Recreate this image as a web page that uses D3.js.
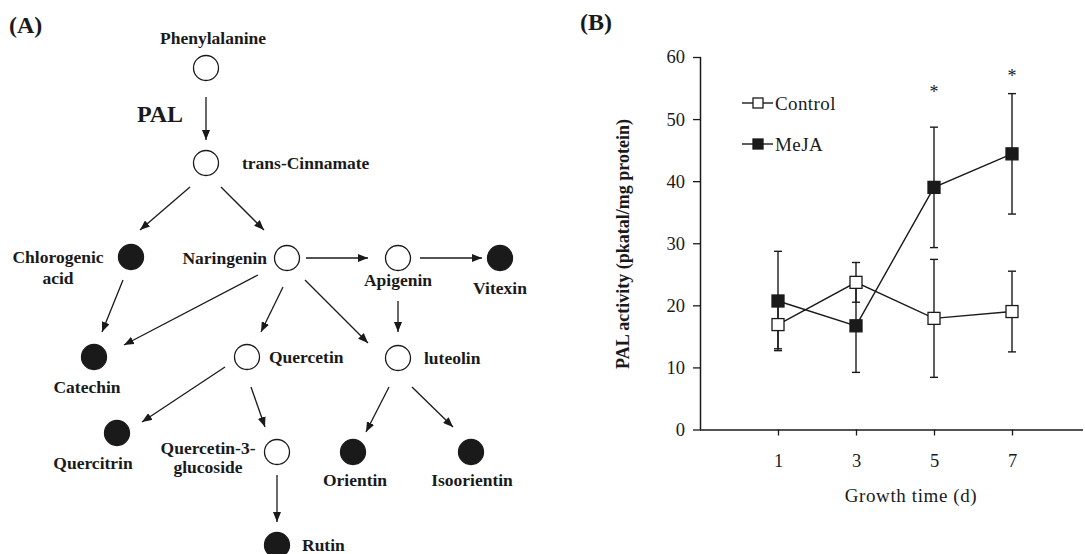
<!DOCTYPE html>
<html><head><meta charset="utf-8">
<script src="https://cdn.jsdelivr.net/npm/d3@7"></script>
<style>
html,body{margin:0;padding:0;background:#fff;}
svg{display:block;font-family:"Liberation Serif","Times New Roman",serif;}
</style></head>
<body>
<svg id="c" width="1085" height="554"></svg>
<script>
// ---------- Data ----------
const days = [1, 3, 5, 7];
const controlMean = [16.9, 23.7, 17.9, 19.0];
const controlSD   = [3.9, 3.2, 9.5, 6.5];
const mejaMean    = [20.7, 16.7, 39.0, 44.4];
const mejaSD      = [8.0, 7.5, 9.7, 9.7];
const sigMarkLevel = [null, null, 55.0, 57.6];   // where the "*" sits (in PAL units)
const yTicks = [0, 10, 20, 30, 40, 50, 60];
const seriesNames = ["Control", "MeJA"];

// pathway diagram
const compounds = ["Phenylalanine","trans-Cinnamate","Chlorogenic acid","Naringenin","Apigenin","Vitexin",
  "Catechin","Quercetin","luteolin","Quercitrin","Quercetin-3-glucoside","Orientin","Isoorientin","Rutin"];
const measured = ["Chlorogenic acid","Vitexin","Catechin","Quercitrin","Orientin","Isoorientin","Rutin"];
const labelLines = {"Chlorogenic acid":["Chlorogenic","acid"],"Quercetin-3-glucoside":["Quercetin-3-","glucoside"]};
const reactions = [
  ["Phenylalanine","trans-Cinnamate"],["trans-Cinnamate","Chlorogenic acid"],["trans-Cinnamate","Naringenin"],
  ["Naringenin","Apigenin"],["Apigenin","Vitexin"],["Chlorogenic acid","Catechin"],["Naringenin","Catechin"],
  ["Naringenin","Quercetin"],["Naringenin","luteolin"],["Apigenin","luteolin"],["Quercetin","Quercitrin"],
  ["Quercetin","Quercetin-3-glucoside"],["luteolin","Orientin"],["luteolin","Isoorientin"],["Quercetin-3-glucoside","Rutin"]];
const enzymeLabel = "PAL";

// ---------- Layout (positions only) ----------
const nodePos = {
  "Phenylalanine":[206,68],"trans-Cinnamate":[206,163],"Chlorogenic acid":[131,257],"Naringenin":[287,258],
  "Apigenin":[398,258],"Vitexin":[500,258],"Catechin":[94,357],"Quercetin":[247,357],"luteolin":[398,358],
  "Quercitrin":[117,433],"Quercetin-3-glucoside":[277,452],"Orientin":[353,452],"Isoorientin":[471,452],"Rutin":[277,545]};
// label: [dx, dy(first line), anchor, lineGap]
const labelPos = {
  "Phenylalanine":[7,-30,"middle",0],
  "trans-Cinnamate":[36,0,"start",0],
  "Chlorogenic acid":[-73,0,"middle",21],
  "Naringenin":[-20,0,"end",0],
  "Apigenin":[0,22,"middle",0],
  "Vitexin":[0,30,"middle",0],
  "Catechin":[-7,30,"middle",0],
  "Quercetin":[22,0,"start",0],
  "luteolin":[26,0,"start",0],
  "Quercitrin":[-24,30,"middle",0],
  "Quercetin-3-glucoside":[-69,-4,"middle",19],
  "Orientin":[2,28,"middle",0],
  "Isoorientin":[1,28,"middle",0],
  "Rutin":[25,0,"start",0]};
const arrowPos = [
  [206,97,206,140],[190,187,140,230],[221,187,264,230],[306,258,368,258],[420,258,482,258],
  [123,280,102,332],[258,275,124,345],[283,287,261,332],[305,280,368,343],[398,301,398,332],
  [225,367,142,422],[251,387,265,427],[389,387,366,432],[412,387,453,427],[277,475,277,522]];

const svg = d3.select("#c");
const ink = "#1a1a1a";

// ---------- Panel A ----------
svg.append("text").attr("x",9).attr("y",33).attr("font-size",24).attr("font-weight","bold").attr("fill",ink).text("(A)");

const defs = svg.append("defs");
defs.append("marker").attr("id","ah").attr("viewBox","0 0 10 8").attr("refX",10).attr("refY",4)
  .attr("markerWidth",10).attr("markerHeight",8).attr("markerUnits","userSpaceOnUse").attr("orient","auto")
  .append("path").attr("d","M0,0 L10,4 L0,8 Z").attr("fill",ink);

const gA = svg.append("g");
gA.selectAll("line.arr").data(reactions).join("line").attr("class","arr")
  .attr("x1",(d,i)=>arrowPos[i][0]).attr("y1",(d,i)=>arrowPos[i][1])
  .attr("x2",(d,i)=>arrowPos[i][2]).attr("y2",(d,i)=>arrowPos[i][3])
  .attr("stroke",ink).attr("stroke-width",1.3).attr("marker-end","url(#ah)");

gA.selectAll("circle.node").data(compounds).join("circle").attr("class","node")
  .attr("cx",d=>nodePos[d][0]).attr("cy",d=>nodePos[d][1]).attr("r",12.5)
  .attr("fill",d=>measured.includes(d)?ink:"#fff").attr("stroke",ink).attr("stroke-width",1.3);

compounds.forEach(c=>{
  const [dx,dy,anchor,gap] = labelPos[c];
  const lines = labelLines[c] || [c];
  lines.forEach((l,i)=>{
    gA.append("text").attr("x",nodePos[c][0]+dx).attr("y",nodePos[c][1]+dy+i*gap).attr("dy","0.35em")
      .attr("text-anchor",anchor).attr("font-size",17.5).attr("font-weight","bold").attr("fill",ink).text(l);
  });
});
gA.append("text").attr("x",160).attr("y",114).attr("dy","0.35em").attr("text-anchor","middle")
  .attr("font-size",24).attr("font-weight","bold").attr("fill",ink).text(enzymeLabel);

// ---------- Panel B ----------
svg.append("text").attr("x",580).attr("y",30).attr("font-size",24).attr("font-weight","bold").attr("fill",ink).text("(B)");

const x = d3.scaleLinear().domain([1,7]).range([778,1012]);
const y = d3.scaleLinear().domain([0,60]).range([429.5,57]);
const x0 = 701, xEnd = 1083;

const gB = svg.append("g");
const yAxis = d3.axisLeft(y).tickValues(yTicks).tickSize(8).tickPadding(8);
const gy = gB.append("g").attr("transform",`translate(${x0},0)`).call(yAxis);
gy.select(".domain").attr("d",`M-0.5,${y(60)}V${y(0)}`).attr("stroke",ink).attr("stroke-width",1.5);
gy.selectAll(".tick line").attr("stroke",ink).attr("stroke-width",1.3);
gy.selectAll(".tick text").attr("font-family","Liberation Serif").attr("font-size",18.5).attr("fill",ink);

const xAxis = d3.axisBottom(x).tickValues(days).tickSize(6).tickPadding(18).tickFormat(d3.format("d"));
const gx = gB.append("g").attr("transform",`translate(0,${y(0)})`).call(xAxis);
gx.select(".domain").attr("d",`M${x0-1},0.5H${xEnd}`).attr("stroke",ink).attr("stroke-width",1.5);
gx.selectAll(".tick line").attr("stroke",ink).attr("stroke-width",1.3);
gx.selectAll(".tick text").attr("font-family","Liberation Serif").attr("font-size",18.5).attr("fill",ink);

gB.append("text").attr("transform",`translate(623,244) rotate(-90)`).attr("text-anchor","middle")
  .attr("dy","0.35em").attr("font-size",18).attr("font-weight","bold").attr("fill",ink)
  .text("PAL activity (pkatal/mg protein)");
gB.append("text").attr("x",911).attr("y",495).attr("dy","0.35em").attr("text-anchor","middle")
  .attr("font-size",19).attr("letter-spacing",0.6).attr("fill",ink).text("Growth time (d)");

const series = [
  {name:seriesNames[0], mean:controlMean, sd:controlSD, fill:"#fff"},
  {name:seriesNames[1], mean:mejaMean, sd:mejaSD, fill:ink}];
const capW = 4;
series.forEach(s=>{
  const g = gB.append("g");
  days.forEach((d,i)=>{
    const hi = y(s.mean[i]+s.sd[i]), lo = y(Math.max(0,s.mean[i]-s.sd[i]));
    g.append("line").attr("x1",x(d)).attr("x2",x(d)).attr("y1",hi).attr("y2",lo).attr("stroke",ink).attr("stroke-width",1.4);
    [hi,lo].forEach(yy=>g.append("line").attr("x1",x(d)-capW).attr("x2",x(d)+capW).attr("y1",yy).attr("y2",yy).attr("stroke",ink).attr("stroke-width",1.4));
  });
});
series.forEach(s=>{
  gB.append("path").datum(days.map((d,i)=>[d,s.mean[i]]))
    .attr("d",d3.line().x(d=>x(d[0])).y(d=>y(d[1]))).attr("fill","none").attr("stroke",ink).attr("stroke-width",1.4);
});
const sq = 12;
series.forEach(s=>{
  gB.selectAll(null).data(days).join("rect")
    .attr("x",d=>x(d)-sq/2).attr("y",(d,i)=>y(s.mean[i])-sq/2).attr("width",sq).attr("height",sq)
    .attr("fill",s.fill).attr("stroke",ink).attr("stroke-width",1.3);
});
gB.selectAll("text.sig").data(days.filter((d,i)=>sigMarkLevel[i]!==null)).join("text").attr("class","sig")
  .attr("x",d=>x(d)).attr("y",d=>y(sigMarkLevel[days.indexOf(d)]))
  .attr("dy","0.55em").attr("text-anchor","middle").attr("font-size",18).attr("fill",ink).text("*");

const leg = gB.append("g");
series.forEach((s,i)=>{
  const ly = 103 + i*41;
  leg.append("line").attr("x1",742).attr("x2",773).attr("y1",ly).attr("y2",ly).attr("stroke",ink).attr("stroke-width",1.4);
  leg.append("rect").attr("x",758-5).attr("y",ly-5).attr("width",10).attr("height",10)
    .attr("fill",s.fill).attr("stroke",ink).attr("stroke-width",1.3);
  leg.append("text").attr("x",775).attr("y",ly).attr("dy","0.35em").attr("font-size",19).attr("letter-spacing",0.4)
    .attr("fill",ink).text(s.name);
});
</script>
</body></html>
